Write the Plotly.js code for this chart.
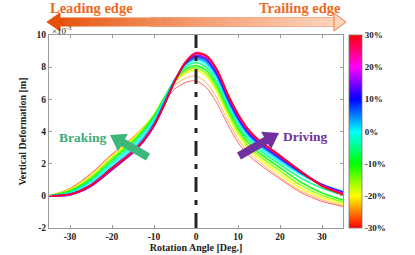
<!DOCTYPE html>
<html>
<head>
<meta charset="utf-8">
<script src="https://cdn.plot.ly/plotly-3.0.1.min.js"></script>
<style>html,body{margin:0;padding:0;background:#fff;}#chart{width:415px;height:255px;}</style>
</head>
<body>
<div id="chart"></div>
<script>
// Rotation angle grid [deg]
const angle = [-35, -30, -25, -20, -15, -12.5, -10, -7.5, -5, -2.5, 0, 2.5, 5, 7.5, 10, 12.5, 15, 20, 25, 30, 35];
// Slip ratios [%]
const slipLevels = [-30, -25, -20, -15, -10, -5, 0, 5, 10, 15, 20, 25, 30];
// Vertical deformation [x1e-3 m] for each slip ratio
const defl_m30 = [0, 0.46, 1.39, 2.60, 3.65, 4.28, 4.98, 5.88, 6.65, 7.05, 7.15, 6.72, 5.75, 4.45, 3.32, 2.52, 1.98, 1.05, 0.20, -0.35, -0.66];
const defl_m25 = [0, 0.44, 1.33, 2.54, 3.62, 4.27, 5.02, 6.02, 6.88, 7.32, 7.45, 7.02, 6.05, 4.70, 3.55, 2.70, 2.12, 1.15, 0.30, -0.25, -0.60];
const defl_m20 = [0, 0.40, 1.23, 2.44, 3.56, 4.24, 5.04, 6.12, 7.08, 7.62, 7.80, 7.42, 6.45, 5.05, 3.82, 2.92, 2.32, 1.35, 0.45, -0.12, -0.50];
const defl_m15 = [0, 0.35, 1.15, 2.34, 3.47, 4.17, 5.02, 6.13, 7.15, 7.75, 7.95, 7.60, 6.65, 5.25, 4.02, 3.10, 2.50, 1.55, 0.65, 0.02, -0.38];
const defl_m10 = [0, 0.30, 1.05, 2.22, 3.36, 4.08, 4.95, 6.10, 7.22, 7.88, 8.10, 7.78, 6.85, 5.45, 4.22, 3.30, 2.68, 1.75, 0.85, 0.18, -0.25];
const defl_m05 = [0, 0.24, 0.95, 2.08, 3.22, 3.95, 4.84, 6.05, 7.25, 8.02, 8.28, 7.98, 7.07, 5.65, 4.42, 3.50, 2.88, 1.95, 1.10, 0.48, 0.05];
const defl_p00 = [0, 0.18, 0.85, 1.94, 3.06, 3.79, 4.70, 5.98, 7.25, 8.15, 8.45, 8.18, 7.27, 5.85, 4.62, 3.68, 3.05, 2.12, 1.32, 0.68, 0.27];
const defl_p05 = [0, 0.12, 0.71, 1.78, 2.88, 3.60, 4.53, 5.85, 7.22, 8.20, 8.55, 8.32, 7.43, 6.00, 4.75, 3.80, 3.17, 2.25, 1.40, 0.70, 0.25];
const defl_p10 = [0, 0.06, 0.59, 1.62, 2.68, 3.40, 4.36, 5.72, 7.18, 8.25, 8.65, 8.45, 7.57, 6.12, 4.86, 3.90, 3.28, 2.35, 1.45, 0.70, 0.22];
const defl_p15 = [0, 0.07, 0.61, 1.65, 2.70, 3.40, 4.35, 5.70, 7.16, 8.28, 8.75, 8.55, 7.67, 6.20, 4.95, 3.98, 3.35, 2.42, 1.50, 0.68, 0.20];
const defl_p20 = [0, 0.08, 0.63, 1.68, 2.72, 3.41, 4.36, 5.68, 7.16, 8.32, 8.85, 8.65, 7.77, 6.28, 5.02, 4.05, 3.42, 2.48, 1.52, 0.66, 0.15];
const defl_p25 = [0, 0.09, 0.65, 1.70, 2.74, 3.43, 4.38, 5.68, 7.15, 8.32, 8.90, 8.72, 7.85, 6.35, 5.08, 4.10, 3.45, 2.50, 1.52, 0.63, 0.12];
const defl_p30 = [0, 0.10, 0.67, 1.72, 2.75, 3.43, 4.38, 5.68, 7.15, 8.30, 8.85, 8.70, 7.85, 6.35, 5.10, 4.12, 3.45, 2.50, 1.50, 0.60, 0.08];
// Tick labels
const xTickVals = [-30, -20, -10, 0, 10, 20, 30];
const xTickText = ['-30', '-20', '-10', '0', '10', '20', '30'];
const yTickVals = [-2, 0, 2, 4, 6, 8, 10];
const yTickText = ['-2', '0', '2', '4', '6', '8', '10'];
const cbTickVals = [-30, -20, -10, 0, 10, 20, 30];
const cbTickText = ['-30%', '-20%', '-10%', '0%', '10%', '20%', '30%'];

const series = [defl_m30, defl_m25, defl_m20, defl_m15, defl_m10, defl_m05, defl_p00,
                defl_p05, defl_p10, defl_p15, defl_p20, defl_p25, defl_p30];

const hsvScale = [[0, 'rgb(255,0,0)'], [1/6, 'rgb(255,255,0)'], [2/6, 'rgb(0,255,0)'],
                  [3/6, 'rgb(0,255,255)'], [4/6, 'rgb(0,0,255)'], [5/6, 'rgb(255,0,255)'], [1, 'rgb(255,0,0)']];
function slipColor(s) {
  const hue = (s + 30) / 60 * 360;
  return 'hsl(' + hue + ',100%,50%)';
}

const FONT = 'Liberation Serif, Times New Roman, serif';
const traces = series.map((ys, i) => {
  const s = slipLevels[i];
  const thin = s <= -25;
  const t = {
    type: 'scatter', mode: 'lines', x: angle, y: ys,
    line: {color: slipColor(s), width: thin ? 1 : 1.7, shape: 'spline', smoothing: 0.8},
    opacity: thin ? 0.6 : 0.85,
    hoverinfo: 'skip', showlegend: false
  };
  if (i === 0) {
    t.mode = 'lines+markers';
    t.marker = {
      size: 0.1, opacity: 0, color: ys.map(() => s), cmin: -30, cmax: 30,
      colorscale: hsvScale, showscale: true,
      colorbar: {
        x: 1.02, xanchor: 'left', xpad: 0, y: 0.5, yanchor: 'middle', ypad: 0,
        len: 1, lenmode: 'fraction', thickness: 13, outlinewidth: 0.8, outlinecolor: '#777',
        tickvals: cbTickVals, ticktext: cbTickText, ticks: '', ticklen: 0,
        tickfont: {family: FONT, size: 9, color: '#222', weight: 'bold'}
      }
    };
  }
  return t;
});

// pixel -> paper helpers for decorations
const L = 49, R = 343, T = 35, B = 228;
const px = v => (v - L) / (R - L);
const py = v => (B - v) / (B - T);
const P = (x, y) => px(x) + ',' + py(y);

function arrowPath(tx, ty, hx, hy, sw, hw, hl) {
  const dx = hx - tx, dy = hy - ty, len = Math.hypot(dx, dy);
  const ux = dx / len, uy = dy / len, nx = -uy, ny = ux;
  const bx = hx - ux * hl, by = hy - uy * hl;
  const pts = [
    [tx + nx * sw, ty + ny * sw], [bx + nx * sw, by + ny * sw], [bx + nx * hw, by + ny * hw],
    [hx, hy], [bx - nx * hw, by - ny * hw], [bx - nx * sw, by - ny * sw], [tx - nx * sw, ty - ny * sw]
  ];
  return 'M' + pts.map(p => P(p[0], p[1])).join(' L') + ' Z';
}

const shapes = [];
// gradient body of top arrow
const x0 = 59, x1 = 335, nSeg = 60;
const c0 = [230, 80, 8], c1 = [253, 212, 188];
for (let k = 0; k < nSeg; k++) {
  const f = k / (nSeg - 1);
  const c = c0.map((a, j) => Math.round(a + (c1[j] - a) * Math.pow(f, 0.8)));
  shapes.push({type: 'rect', xref: 'paper', yref: 'paper',
    x0: px(x0 + (x1 - x0) * k / nSeg), x1: px(x0 + (x1 - x0) * (k + 1) / nSeg + 0.6),
    y0: py(26.5), y1: py(17.5), fillcolor: 'rgb(' + c.join(',') + ')', line: {width: 0}, layer: 'above'});
}
shapes.push({type: 'path', xref: 'paper', yref: 'paper', layer: 'above',
  path: 'M' + P(47, 22) + ' L' + P(60, 13) + ' L' + P(60, 31) + ' Z',
  fillcolor: 'rgb(230,80,8)', line: {color: 'rgb(230,80,8)', width: 1}});
shapes.push({type: 'path', xref: 'paper', yref: 'paper', layer: 'above',
  path: 'M' + P(346, 22) + ' L' + P(334, 13) + ' L' + P(334, 31) + ' Z',
  fillcolor: 'rgb(253,212,188)', line: {color: 'rgb(240,120,60)', width: 1}});
shapes.push({type: 'path', xref: 'paper', yref: 'paper', layer: 'above',
  path: 'M' + P(150, 17.5) + ' L' + P(334, 17.5) + ' M' + P(150, 26.5) + ' L' + P(334, 26.5),
  line: {color: 'rgba(240,120,60,0.6)', width: 0.8}});
// dash-dot vertical line at 0 deg
shapes.push({type: 'line', xref: 'x', yref: 'paper', x0: 0, x1: 0, y0: 0, y1: 1,
  line: {color: '#262626', width: 3, dash: '15px,8px,5px,8px'}, layer: 'above'});
// Braking / Driving arrows
shapes.push({type: 'path', xref: 'paper', yref: 'paper', layer: 'above',
  path: arrowPath(148, 157, 110, 135, 4, 10, 15), fillcolor: '#3DB77A', line: {width: 0}});
shapes.push({type: 'path', xref: 'paper', yref: 'paper', layer: 'above',
  path: arrowPath(239, 156, 279, 133, 4, 10, 15), fillcolor: '#7030A0', line: {width: 0}});

const annotations = [
  {xref: 'paper', yref: 'paper', x: px(48), y: py(8), xanchor: 'left', yanchor: 'middle', showarrow: false,
   text: 'Leading edge', font: {family: FONT, size: 14.5, color: '#EE6A1C', weight: 'bold'}},
  {xref: 'paper', yref: 'paper', x: px(343), y: py(8), xanchor: 'right', yanchor: 'middle', showarrow: false,
   text: 'Trailing edge', font: {family: FONT, size: 14.5, color: '#EE6A1C', weight: 'bold'}},
  {xref: 'paper', yref: 'paper', x: px(50), y: py(30), xanchor: 'left', yanchor: 'middle', showarrow: false,
   text: '×10<sup>-3</sup>', font: {family: FONT, size: 9, color: '#222'}},
  {xref: 'paper', yref: 'paper', x: px(83), y: py(137), xanchor: 'center', yanchor: 'middle', showarrow: false,
   text: 'Braking', font: {family: FONT, size: 13.5, color: '#3DAE78', weight: 'bold'}},
  {xref: 'paper', yref: 'paper', x: px(305), y: py(136), xanchor: 'center', yanchor: 'middle', showarrow: false,
   text: 'Driving', font: {family: FONT, size: 13.5, color: '#7030A0', weight: 'bold'}}
];

const axisCommon = {
  showgrid: false, zeroline: false, showline: true, linecolor: '#9a9a9a', linewidth: 1,
  mirror: 'ticks', ticks: 'inside', ticklen: 3, tickcolor: '#9a9a9a',
  tickfont: {family: FONT, size: 9.5, color: '#222', weight: 'bold'}
};

const layout = {
  width: 415, height: 255,
  margin: {l: 49, r: 72, t: 35, b: 27},
  paper_bgcolor: '#fff', plot_bgcolor: '#fff',
  showlegend: false,
  xaxis: Object.assign({}, axisCommon, {
    range: [-35, 35], tickvals: xTickVals, ticktext: xTickText,
    title: {text: 'Rotation Angle [Deg.]', standoff: 2, font: {family: FONT, size: 10, color: '#222', weight: 'bold'}}
  }),
  yaxis: Object.assign({}, axisCommon, {
    range: [-2, 10], tickvals: yTickVals, ticktext: yTickText,
    title: {text: 'Vertical Deformation [m]', standoff: 8, font: {family: FONT, size: 10, color: '#222', weight: 'bold'}}
  }),
  shapes: shapes,
  annotations: annotations
};

Plotly.newPlot('chart', traces, layout, {displayModeBar: false, staticPlot: true});
</script>
</body>
</html>
